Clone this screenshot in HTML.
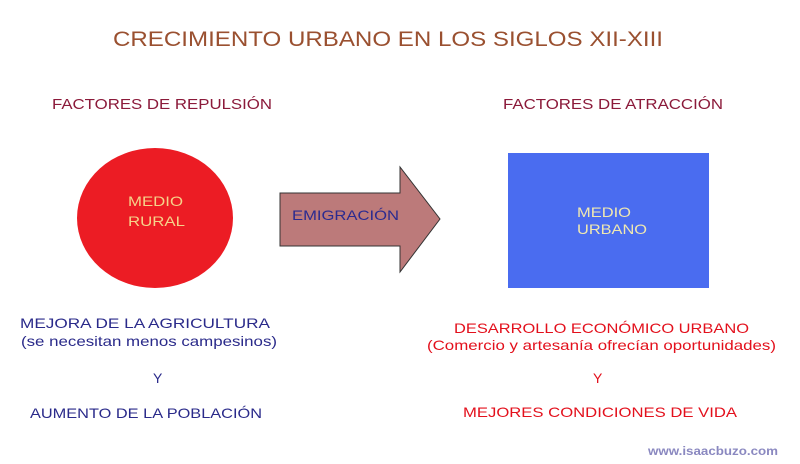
<!DOCTYPE html>
<html><head><meta charset="utf-8"><style>
html,body{margin:0;padding:0;background:#fff;}
svg{display:block;}
text{font-family:"Liberation Sans",sans-serif;font-weight:bold;}
</style></head><body>
<svg width="800" height="464" viewBox="0 0 800 464" xmlns="http://www.w3.org/2000/svg">
<rect width="800" height="464" fill="#fff"/>
<text x="113" y="46" font-size="21" fill="#9a5030" textLength="550" lengthAdjust="spacingAndGlyphs" font-weight="normal" style="font-weight:normal">CRECIMIENTO URBANO EN LOS SIGLOS XII-XIII</text>
<g style="font-weight:normal">
<text x="52" y="109" font-size="14.5" fill="#8b1a3a" textLength="220" lengthAdjust="spacingAndGlyphs" style="font-weight:normal">FACTORES DE REPULSIÓN</text>
<text x="503" y="109" font-size="14.5" fill="#8b1a3a" textLength="220" lengthAdjust="spacingAndGlyphs" style="font-weight:normal">FACTORES DE ATRACCIÓN</text>
</g>
<ellipse cx="155" cy="218" rx="78" ry="70" fill="#ec1c24"/>
<text x="128" y="206" font-size="14" fill="#f5d38a" textLength="55" lengthAdjust="spacingAndGlyphs" style="font-weight:normal">MEDIO</text>
<text x="128" y="226" font-size="14" fill="#f5d38a" textLength="57" lengthAdjust="spacingAndGlyphs" style="font-weight:normal">RURAL</text>
<polygon points="280,193 400,193 400,167 440,219 400,272 400,246 280,246" fill="#bc7a7a" stroke="#333" stroke-width="1"/>
<text x="292" y="220" font-size="14" fill="#2a2a90" textLength="107" lengthAdjust="spacingAndGlyphs" style="font-weight:normal">EMIGRACIÓN</text>
<rect x="508" y="153" width="201" height="135" fill="#4a6cf0"/>
<text x="577" y="217" font-size="14" fill="#f0e8b0" textLength="54" lengthAdjust="spacingAndGlyphs" style="font-weight:normal">MEDIO</text>
<text x="577" y="234" font-size="14" fill="#f0e8b0" textLength="70" lengthAdjust="spacingAndGlyphs" style="font-weight:normal">URBANO</text>
<g fill="#2a2a8a" font-size="14">
<text x="20" y="328" textLength="250" lengthAdjust="spacingAndGlyphs" style="font-weight:normal">MEJORA DE LA AGRICULTURA</text>
<text x="21" y="346" textLength="256" lengthAdjust="spacingAndGlyphs" style="font-weight:normal">(se necesitan menos campesinos)</text>
<text x="153" y="383" style="font-weight:normal">Y</text>
<text x="30" y="418" textLength="232" lengthAdjust="spacingAndGlyphs" style="font-weight:normal">AUMENTO DE LA POBLACIÓN</text>
</g>
<g fill="#e3101c" font-size="14">
<text x="454" y="333" textLength="295" lengthAdjust="spacingAndGlyphs" style="font-weight:normal">DESARROLLO ECONÓMICO URBANO</text>
<text x="427" y="350" textLength="349" lengthAdjust="spacingAndGlyphs" style="font-weight:normal">(Comercio y artesanía ofrecían oportunidades)</text>
<text x="593" y="383" style="font-weight:normal">Y</text>
<text x="463" y="417" textLength="274" lengthAdjust="spacingAndGlyphs" style="font-weight:normal">MEJORES CONDICIONES DE VIDA</text>
</g>
<text x="648" y="455" font-size="11.5" fill="#8a88c0" textLength="130" lengthAdjust="spacingAndGlyphs">www.isaacbuzo.com</text>
</svg>
</body></html>
